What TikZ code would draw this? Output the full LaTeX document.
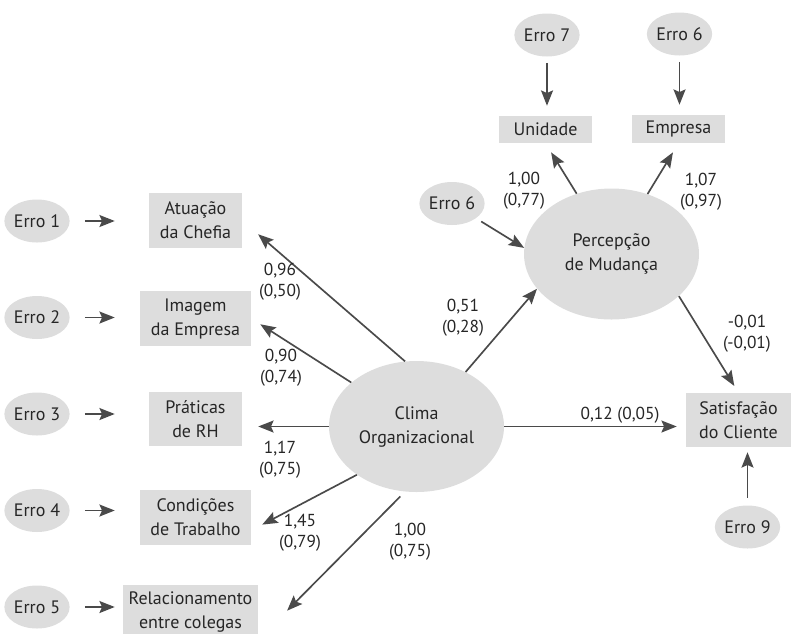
\documentclass[tikz,border=0pt]{standalone}
\usepackage{fontspec}
\setmainfont{PT Sans}
\usetikzlibrary{shapes.geometric,arrows.meta,calc}
\definecolor{fillg}{HTML}{DDDDDD}
\definecolor{lineg}{HTML}{4A4A4A}
\definecolor{txtc}{HTML}{262626}
\newcommand{\bxfont}{\fontsize{13.5}{18}\selectfont}
\newcommand{\lbfont}{\fontsize{13}{15.75}\selectfont}
\begin{document}
\begin{tikzpicture}[x=0.75pt,y=-0.75pt,
  every node/.style={text=txtc},
  err/.style={ellipse, fill=fillg, minimum width=45pt, minimum height=32.25pt, inner sep=0pt, font=\bxfont},
  box/.style={rectangle, fill=fillg, inner sep=0pt, align=center, font=\bxfont},
  lat/.style={ellipse, fill=fillg, minimum width=131.25pt, minimum height=98.25pt, inner sep=0pt, align=center, font=\bxfont},
  lab/.style={align=center, font=\lbfont, inner sep=0pt},
  arr/.style={draw=lineg, line width=1.25pt, -{Stealth[length=11.5pt,width=9pt,inset=2pt]}}
]
\useasboundingbox (0,0) rectangle (795,633);

% error terms, left
\node[err] (e1) at (37,221) {Erro 1};
\node[err] (e2) at (37,317.5) {Erro 2};
\node[err] (e3) at (37,414) {Erro 3};
\node[err] (e4) at (37,510.5) {Erro 4};
\node[err] (e5) at (37,607) {Erro 5};

% indicator boxes, left
\node[box, minimum width=69.75pt, minimum height=41.25pt] (b1) at (195.5,220.5) {Atuação\\da Chefia};
\node[box, minimum width=83.25pt, minimum height=41.25pt] (b2) at (195.5,318.5) {Imagem\\da Empresa};
\node[box, minimum width=69.75pt, minimum height=40.5pt] (b3) at (195.5,419) {Práticas\\de RH};
\node[box, minimum width=83.25pt, minimum height=41.25pt] (b4) at (195.5,517.5) {Condições\\de Trabalho};
\node[box, minimum width=101.25pt, minimum height=41.25pt] (b5) at (190.5,612) {Relacionamento\\entre colegas};

% latent variables
\node[lat] (co) at (416.5,426.5) {Clima\\Organizacional};
\node[lat] (pdm) at (611.5,254) {Percepção\\de Mudança};

% right side
\node[err] (e6) at (452,203.5) {Erro 6};
\node[err] (e7) at (547,35) {Erro 7};
\node[err] (e6t) at (679.5,34) {Erro 6};
\node[err] (e9) at (747.5,527) {Erro 9};
\node[box, minimum width=69.75pt, minimum height=20.25pt] (un) at (545.5,129.5) {Unidade};
\node[box, minimum width=69.75pt, minimum height=21pt] (em) at (678.5,129) {Empresa};
\node[box, minimum width=78.75pt, minimum height=40.5pt] (sat) at (738.5,420) {Satisfação\\do Cliente};

% error arrows, left
\draw[arr, shorten <=11.25pt, shorten >=25.5pt] (e1.east) -- (e1.east -| b1.west);
\draw[arr, shorten <=11.25pt, shorten >=18.75pt] (e2.east) -- (e2.east -| b2.west);
\draw[arr, shorten <=11.25pt, shorten >=25.5pt] (e3.east) -- (e3.east -| b3.west);
\draw[arr, shorten <=11.25pt, shorten >=18.75pt] (e4.east) -- (e4.east -| b4.west);
\draw[arr, shorten <=11.25pt, shorten >=6pt] (e5.east) -- (e5.east -| b5.west);

% loadings of Clima Organizacional
\draw[arr, shorten >=15.75pt] (co.100) -- (b1.east);
\draw[arr, shorten >=8pt] (co.146) -- (b2.east);
\draw[arr, shorten >=12pt] (co.west) -- (co.west -| b3.east);
\draw[arr, shorten >=9.3pt] (co.-141) -- (b4.-13);
\draw[arr, shorten <=5pt, shorten >=30.75pt] (co.-100) -- (b5.south east);

% structural paths
\draw[arr] (co.48) -- (pdm.205);
\draw[arr, shorten >=6.75pt] (co.east) -- (co.east -| sat.west);
\draw[arr, shorten >=6pt] (pdm.-32) -- (sat.north);

% Percepção de Mudança indicators
\draw[arr, shorten >=8pt] (pdm.120) -- (un.south);
\draw[arr, shorten >=8pt] (pdm.59) -- (em.south);
\draw[arr, shorten <=4.5pt] (e6) -- (pdm.176);
\draw[arr, shorten <=4.5pt, shorten >=7.5pt] (e7.south) -- (e7.south |- un.north);
\draw[arr, shorten <=4.5pt, shorten >=7.5pt] (e6t.south) -- (e6t.south |- em.north);
\draw[arr, shorten <=5.5pt, shorten >=3.75pt] (e9.north) -- (e9.north |- sat.south);

% labels
\node[lab] (l1) at (280,282) {0,96\\(0,50)};
\node[lab] (l2) at (281,368) {0,90\\(0,74)};
\node[lab] (l3) at (280,460) {1,17\\(0,75)};
\node[lab] (l4) at (300,533) {1,45\\(0,79)};
\node[lab] (l5) at (410,542) {1,00\\(0,75)};
\node[lab] (l6) at (463,318) {0,51\\(0,28)};
\node[lab] (l7) at (524,191) {1,00\\(0,77)};
\node[lab] (l8) at (701,192) {1,07\\(0,97)};
\node[lab] (l9) at (747,334) {-0,01\\(-0,01)};
\node[lab] (l10) at (620,415) {0,12 (0,05)};
\end{tikzpicture}
\end{document}
